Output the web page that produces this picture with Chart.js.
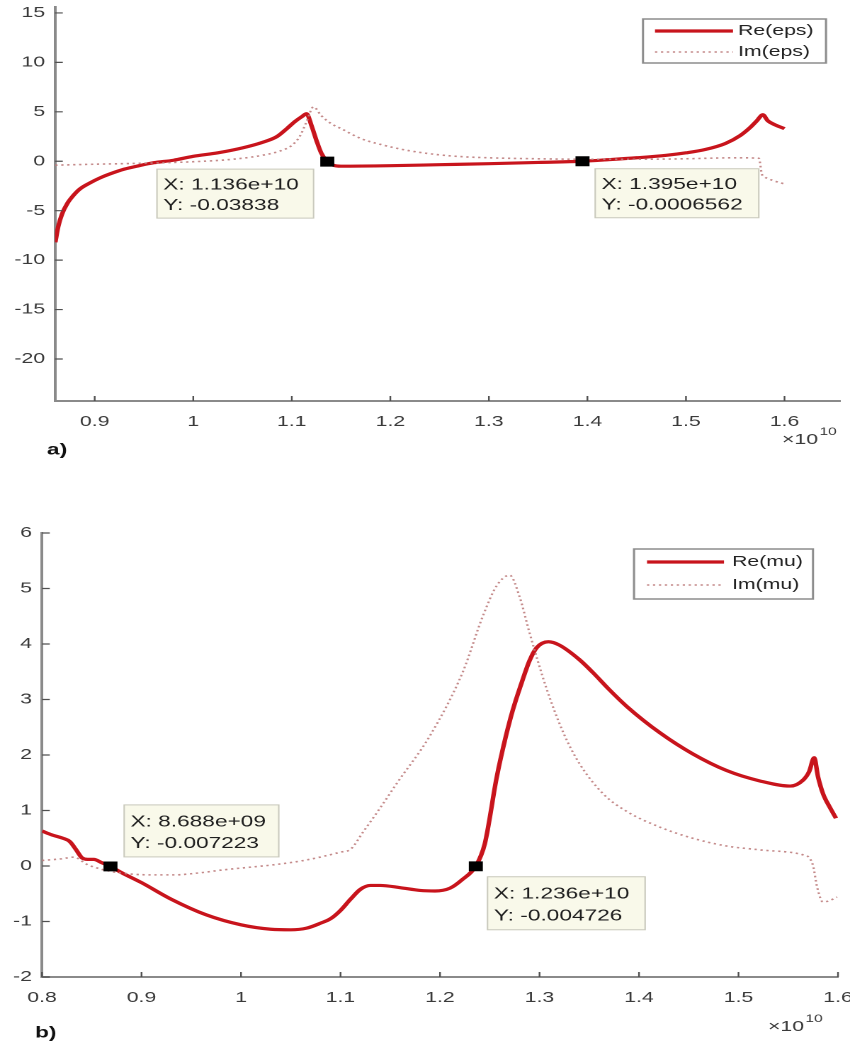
<!DOCTYPE html>
<html>
<head>
<meta charset="utf-8">
<script src="https://cdn.jsdelivr.net/npm/chart.js@4.4.1/dist/chart.umd.min.js"></script>
<style>
  html, body { margin: 0; padding: 0; background: #fff; }
  #wrap { position: relative; width: 850px; height: 1054px; overflow: hidden; }
  canvas { position: absolute; left: 0; }
</style>
</head>
<body>
<div id="wrap">
  <canvas id="cEps" width="600" height="470" style="top:0px;width:850px;height:470px"></canvas>
  <canvas id="cMu" width="600" height="554" style="top:500px;width:850px;height:554px"></canvas>
</div>
<script>
// frequency in units of 1e10 Hz (axis shows x10^10)
const epsReX = [0.86, 0.863, 0.867, 0.872, 0.878, 0.885, 0.895, 0.905, 0.915, 0.93, 0.945, 0.96, 0.98, 1.0, 1.025, 1.05, 1.07, 1.085, 1.095, 1.103, 1.11, 1.115, 1.12, 1.125, 1.13, 1.136, 1.142, 1.15, 1.2, 1.25, 1.3, 1.35, 1.395, 1.42, 1.45, 1.48, 1.5, 1.52, 1.54, 1.555, 1.565, 1.572, 1.578, 1.583, 1.59, 1.6];
const epsReY = [-8.2, -6.6, -5.3, -4.3, -3.5, -2.8, -2.2, -1.7, -1.3, -0.8, -0.45, -0.15, 0.1, 0.5, 0.85, 1.35, 1.9, 2.5, 3.3, 4.0, 4.5, 4.8, 3.6, 2.1, 0.8, -0.04, -0.4, -0.5, -0.45, -0.35, -0.25, -0.12, 0.0, 0.15, 0.35, 0.6, 0.85, 1.2, 1.8, 2.6, 3.4, 4.1, 4.7, 4.1, 3.7, 3.3];
const epsImX = [0.86, 0.9, 0.95, 1.0, 1.04, 1.07, 1.09, 1.1, 1.108, 1.115, 1.122, 1.13, 1.14, 1.15, 1.17, 1.19, 1.22, 1.26, 1.3, 1.35, 1.4, 1.45, 1.5, 1.55, 1.574, 1.577, 1.58, 1.59, 1.6];
const epsImY = [-0.4, -0.3, -0.2, -0.05, 0.2, 0.6, 1.1, 1.6, 2.5, 4.0, 5.5, 4.6, 3.8, 3.3, 2.3, 1.7, 1.05, 0.55, 0.35, 0.25, 0.2, 0.2, 0.25, 0.35, 0.3, -1.3, -1.6, -2.0, -2.3];
const epsTipX = [1.136, 1.395];
const epsTipY = [-0.03838, -0.0006562];
const epsXTicks = [0.9, 1, 1.1, 1.2, 1.3, 1.4, 1.5, 1.6];
const epsYTicks = [-20, -15, -10, -5, 0, 5, 10, 15];

const muReX = [0.8, 0.81, 0.821, 0.828, 0.834, 0.84, 0.846, 0.852, 0.86, 0.869, 0.88, 0.9, 0.93, 0.965, 1.0, 1.03, 1.05, 1.066, 1.08, 1.09, 1.1, 1.11, 1.12, 1.13, 1.14, 1.16, 1.18, 1.195, 1.21, 1.222, 1.236, 1.245, 1.257, 1.265, 1.273, 1.282, 1.29, 1.297, 1.309, 1.32, 1.34, 1.354, 1.37, 1.388, 1.421, 1.454, 1.488, 1.522, 1.552, 1.565, 1.571, 1.576, 1.58, 1.585, 1.592, 1.598];
const muReY = [0.63, 0.56, 0.5, 0.44, 0.3, 0.15, 0.12, 0.12, 0.06, -0.01, -0.12, -0.3, -0.6, -0.88, -1.06, -1.14, -1.15, -1.12, -1.03, -0.95, -0.8, -0.6, -0.42, -0.35, -0.35, -0.39, -0.44, -0.45, -0.4, -0.25, 0.0, 0.4, 1.6, 2.25, 2.8, 3.3, 3.7, 3.93, 4.04, 3.98, 3.72, 3.48, 3.18, 2.87, 2.4, 2.02, 1.72, 1.53, 1.44, 1.55, 1.7, 1.95, 1.6, 1.3, 1.05, 0.86];
const muImX = [0.8, 0.82, 0.832, 0.845, 0.86, 0.881, 0.91, 0.932, 0.96, 0.982, 1.01, 1.032, 1.06, 1.082, 1.1, 1.11, 1.123, 1.14, 1.157, 1.19, 1.223, 1.243, 1.257, 1.27, 1.28, 1.29, 1.307, 1.324, 1.34, 1.364, 1.388, 1.421, 1.454, 1.488, 1.522, 1.565, 1.571, 1.575, 1.579, 1.585, 1.592, 1.599];
const muImY = [0.1, 0.13, 0.16, 0.03, -0.06, -0.13, -0.16, -0.16, -0.12, -0.07, -0.02, 0.02, 0.09, 0.17, 0.25, 0.3, 0.62, 1.05, 1.5, 2.35, 3.5, 4.5, 5.05, 5.24, 4.85, 4.2, 3.2, 2.4, 1.85, 1.3, 0.98, 0.7, 0.5, 0.36, 0.29, 0.2, 0.15, 0.0, -0.38, -0.65, -0.62, -0.56];
const muTipX = [0.8688, 1.236];
const muTipY = [-0.007223, -0.004726];
const muXTicks = [0.8, 0.9, 1, 1.1, 1.2, 1.3, 1.4, 1.5, 1.6];
const muYTicks = [-2, -1, 0, 1, 2, 3, 4, 5, 6];

// the picture is stretched sideways: draw at 600 wide and show at 850
const SX = 850 / 600;
const RE_COLOR = '#c8141c';
const IM_COLOR = 'rgba(190,125,125,0.9)';
const AXIS_COLOR = '#8a8a8a';
const TEXT_COLOR = '#3a3a3a';
const FONT = '"Liberation Sans", Arial, sans-serif';

Chart.defaults.font.family = FONT;
Chart.defaults.font.size = 15;

function zip(xs, ys) {
    return xs.map((x, i) => ({ x: x, y: ys[i] }));
}

function fmtX(v) {
    // MATLAB style: 8.688e+09
    const parts = (v * 1e10).toExponential(3).split('e');
    const sign = parts[1][0];
    let exp = parts[1].slice(1);
    if (exp.length < 2) exp = '0' + exp;
    return 'X: ' + parts[0] + 'e' + sign + exp;
}

function fmtY(v) {
    return 'Y: ' + String(Number(v.toPrecision(4)));
}

const decor = {
    id: 'decor',
    afterDatasetsDraw(chart, args, o) {
        const ctx = chart.ctx;
        const a = chart.chartArea;
        const xs = chart.scales.x;
        const ys = chart.scales.y;
        ctx.save();

        // tick marks pointing inward
        ctx.strokeStyle = '#505050';
        ctx.lineWidth = 1.2;
        ctx.beginPath();
        xs.ticks.forEach(t => {
            const p = xs.getPixelForValue(t.value);
            ctx.moveTo(p, a.bottom);
            ctx.lineTo(p, a.bottom - 5);
        });
        ys.ticks.forEach(t => {
            const p = ys.getPixelForValue(t.value);
            ctx.moveTo(a.left, p);
            ctx.lineTo(a.left + 5.5, p);
        });
        ctx.stroke();

        // data tips
        const tipIndex = chart.data.datasets.findIndex(d => d.label === 'tips');
        const tipData = chart.data.datasets[tipIndex].data;
        const pts = chart.getDatasetMeta(tipIndex).data;
        ctx.textBaseline = 'middle';
        ctx.textAlign = 'left';
        pts.forEach((pt, i) => {
            const b = o.tips[i];
            const left = pt.x + b.dx / SX;
            const top = pt.y + b.dy;
            const w = b.w / SX;
            ctx.fillStyle = '#f9f9ea';
            ctx.fillRect(left, top, w, b.h);
            ctx.strokeStyle = '#c9c9bd';
            ctx.lineWidth = 1;
            ctx.strokeRect(left + 0.5, top + 0.5, w - 1, b.h - 1);
            ctx.fillStyle = '#1e1e1e';
            ctx.font = '16px ' + FONT;
            ctx.fillText(fmtX(tipData[i].x), left + 7 / SX, top + b.h * 0.33);
            ctx.fillText(fmtY(tipData[i].y), left + 7 / SX, top + b.h * 0.74);
        });

        // legend box
        const L = o.legend;
        const lx = L.left / SX;
        const lw = L.w / SX;
        ctx.fillStyle = '#fff';
        ctx.fillRect(lx, L.top, lw, L.h);
        ctx.strokeStyle = '#8c8c8c';
        ctx.lineWidth = 1.5;
        ctx.strokeRect(lx, L.top, lw, L.h);
        const series = chart.data.datasets.filter(d => d.label !== 'tips')
            .sort((p, q) => q.order - p.order);
        series.forEach((d, i) => {
            const yy = L.top + L.rowY[i];
            ctx.save();
            ctx.strokeStyle = d.borderColor;
            ctx.lineWidth = d.borderWidth;
            ctx.setLineDash(d.borderDash || []);
            ctx.beginPath();
            ctx.moveTo(lx + L.lineX0 / SX, yy);
            ctx.lineTo(lx + L.lineX1 / SX, yy);
            ctx.stroke();
            ctx.restore();
            ctx.fillStyle = '#222';
            ctx.font = '15px ' + FONT;
            ctx.fillText(d.label, lx + L.textX / SX, yy);
        });

        // x10^10 exponent label
        ctx.fillStyle = TEXT_COLOR;
        ctx.font = '15px ' + FONT;
        const ex = o.exp.x / SX;
        ctx.fillText('\u00d710', ex, o.exp.y);
        const ew = ctx.measureText('\u00d710').width;
        ctx.font = '11px ' + FONT;
        ctx.fillText('10', ex + ew + 1, o.exp.y - 8);

        // panel label
        ctx.fillStyle = '#111';
        ctx.font = 'bold 16px ' + FONT;
        ctx.fillText(o.panel.text, o.panel.x / SX, o.panel.y);

        ctx.restore();
    }
};

function makeChart(id, s) {
    return new Chart(document.getElementById(id), {
        type: 'scatter',
        data: {
            datasets: [
                {
                    label: 'tips', order: 0,
                    data: zip(s.tipX, s.tipY),
                    showLine: false, pointStyle: 'rect', pointRadius: 7,
                    backgroundColor: '#000', borderColor: '#000', borderWidth: 0
                },
                {
                    label: s.imLabel, order: 1,
                    data: zip(s.imX, s.imY),
                    showLine: true, pointRadius: 0, borderColor: IM_COLOR,
                    borderWidth: 1.6, borderDash: [1.6, 2.6],
                    cubicInterpolationMode: 'monotone'
                },
                {
                    label: s.reLabel, order: 2,
                    data: zip(s.reX, s.reY),
                    showLine: true, pointRadius: 0, borderColor: RE_COLOR,
                    borderWidth: 3.2, cubicInterpolationMode: 'monotone'
                }
            ]
        },
        options: {
            responsive: false,
            devicePixelRatio: 2,
            animation: false,
            layout: { padding: { left: 0, top: s.padTop, right: s.padRight, bottom: 0 } },
            plugins: {
                legend: { display: false },
                tooltip: { enabled: false },
                decor: s.decor
            },
            scales: {
                x: {
                    type: 'linear', min: s.xMin, max: s.xMax,
                    afterBuildTicks: sc => { sc.ticks = s.xTicks.map(v => ({ value: v })); },
                    afterFit: sc => { sc.height = s.xHeight; sc.paddingLeft = 0; sc.paddingRight = 0; },
                    grid: { display: true, drawOnChartArea: false, drawTicks: false, color: 'rgba(0,0,0,0)' },
                    border: { display: true, color: AXIS_COLOR, width: 2 },
                    ticks: { padding: 12, color: TEXT_COLOR, maxRotation: 0, autoSkip: false, callback: v => String(v) }
                },
                y: {
                    type: 'linear', min: s.yMin, max: s.yMax,
                    afterBuildTicks: sc => { sc.ticks = s.yTicks.map(v => ({ value: v })); },
                    afterFit: sc => { sc.width = s.yWidth; sc.paddingTop = 0; sc.paddingBottom = 0; },
                    grid: { display: true, drawOnChartArea: false, drawTicks: false, color: 'rgba(0,0,0,0)' },
                    border: { display: true, color: AXIS_COLOR, width: 2 },
                    ticks: { padding: 7, color: TEXT_COLOR, autoSkip: false, callback: v => String(v) }
                }
            }
        },
        plugins: [decor]
    });
}

makeChart('cEps', {
    reLabel: 'Re(eps)', imLabel: 'Im(eps)',
    reX: epsReX, reY: epsReY, imX: epsImX, imY: epsImY,
    tipX: epsTipX, tipY: epsTipY,
    xTicks: epsXTicks, yTicks: epsYTicks,
    xMin: 0.8597, xMax: 1.6564, yMin: -24.25, yMax: 15.6,
    padTop: 5, padRight: 600 - 845 / SX, yWidth: 55 / SX, xHeight: 470 - 401,
    decor: {
        tips: [{ dx: -171, dy: 7, w: 158, h: 50 }, { dx: 12, dy: 7, w: 165, h: 50 }],
        legend: { left: 643, top: 19, w: 183, h: 44, lineX0: 12, lineX1: 90, textX: 95, rowY: [12, 33] },
        exp: { x: 782, y: 440 },
        panel: { text: 'a)', x: 47, y: 450 }
    }
});

makeChart('cMu', {
    reLabel: 'Re(mu)', imLabel: 'Im(mu)',
    reX: muReX, reY: muReY, imX: muImX, imY: muImY,
    tipX: muTipX, tipY: muTipY,
    xTicks: muXTicks, yTicks: muYTicks,
    xMin: 0.8, xMax: 1.6, yMin: -2, yMax: 6,
    padTop: 33, padRight: 600 - 838 / SX, yWidth: 42 / SX, xHeight: 554 - 477,
    decor: {
        tips: [{ dx: 13, dy: -62, w: 156, h: 53 }, { dx: 11, dy: 10, w: 159, h: 54 }],
        legend: { left: 634, top: 49, w: 179, h: 50, lineX0: 13, lineX1: 90, textX: 98, rowY: [13, 36] },
        exp: { x: 768, y: 527 },
        panel: { text: 'b)', x: 35, y: 533 }
    }
});
</script>
</body>
</html>
